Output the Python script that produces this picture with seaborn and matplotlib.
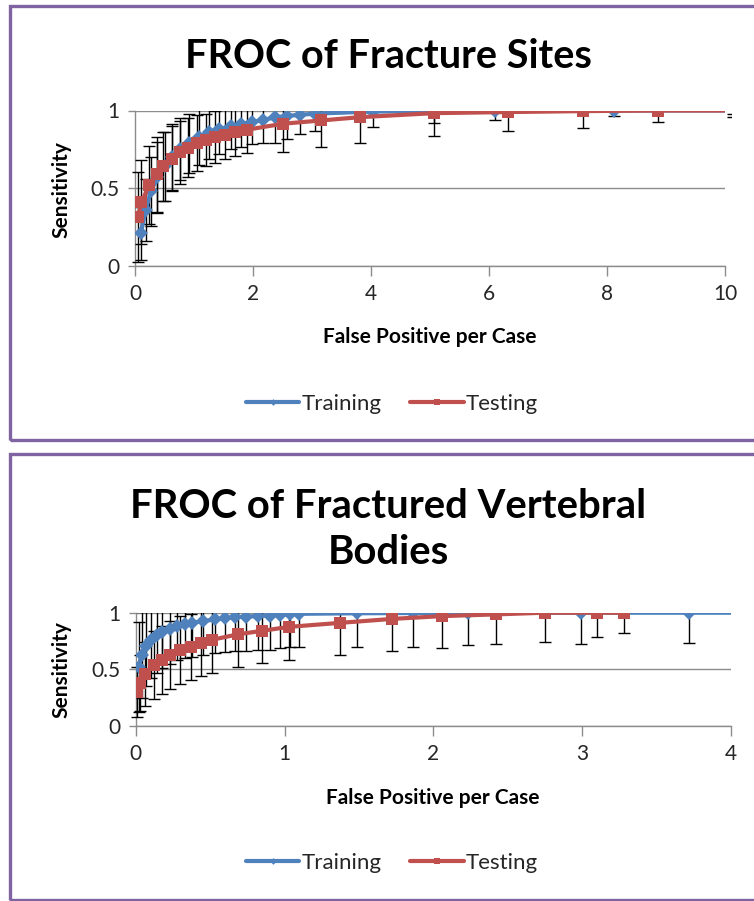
import matplotlib
matplotlib.use("Agg")
import matplotlib.pyplot as plt
import matplotlib.patches as mpatches
import numpy as np
import pandas as pd
import seaborn as sns

# ---------------- data ----------------
series_names = ["Training", "Testing"]

top_train_x = [0.10, 0.18, 0.27, 0.38, 0.50, 0.63, 0.77, 0.92, 1.08, 1.25, 1.43, 1.62, 1.80, 1.98,
               2.17, 2.37, 2.57, 2.80, 3.05, 4.03, 5.07, 6.10, 8.12, 10.13]
top_train_y = [0.21, 0.36, 0.48, 0.57, 0.64, 0.70, 0.75, 0.79, 0.83, 0.86, 0.88, 0.90, 0.915, 0.925,
               0.94, 0.955, 0.965, 0.972, 0.98, 0.993, 0.997, 0.999, 1.0, 1.0]
top_train_err = [0.17, 0.20, 0.22, 0.23, 0.22, 0.21, 0.20, 0.19, 0.18, 0.17, 0.16, 0.15, 0.15, 0.14,
                 0.15, 0.165, 0.15, 0.12, 0.11, 0.10, 0.08, 0.06, 0.035, 0.045]

top_test_x = [0.05, 0.11, 0.24, 0.37, 0.48, 0.62, 0.76, 0.90, 1.05, 1.20, 1.36, 1.52, 1.70, 1.89,
              2.51, 3.16, 3.81, 5.07, 6.33, 7.59, 8.86, 10.13]
top_test_y = [0.316, 0.41, 0.52, 0.59, 0.64, 0.69, 0.73, 0.76, 0.79, 0.81, 0.83, 0.845, 0.86, 0.876,
              0.915, 0.936, 0.957, 0.983, 0.99, 0.996, 1.0, 1.0]
top_test_err = [0.29, 0.27, 0.25, 0.24, 0.22, 0.21, 0.20, 0.19, 0.18, 0.17, 0.165, 0.16, 0.155, 0.15,
                0.185, 0.17, 0.167, 0.148, 0.12, 0.106, 0.075, 0.02]

bot_train_x = [0.02, 0.04, 0.07, 0.10, 0.14, 0.18, 0.23, 0.28, 0.33, 0.38, 0.45, 0.53, 0.60, 0.67,
               0.74, 0.82, 0.90, 0.97, 1.04, 1.10, 1.49, 1.86, 2.23, 2.99, 3.72, 4.20]
bot_train_y = [0.52, 0.63, 0.71, 0.76, 0.80, 0.83, 0.86, 0.88, 0.90, 0.91, 0.925, 0.94, 0.95, 0.96,
               0.965, 0.97, 0.975, 0.98, 0.985, 0.99, 0.995, 0.997, 0.999, 1.0, 1.0, 1.0]
bot_train_err = [0.40, 0.38, 0.36, 0.34, 0.33, 0.32, 0.31, 0.30, 0.30, 0.30, 0.30, 0.30, 0.30, 0.30,
                 0.30, 0.30, 0.30, 0.29, 0.29, 0.29, 0.30, 0.30, 0.28, 0.28, 0.265, 0.27]

bot_test_x = [0.01, 0.03, 0.063, 0.12, 0.175, 0.23, 0.30, 0.37, 0.44, 0.51, 0.69, 0.85, 1.03, 1.37,
              1.72, 2.06, 2.42, 2.75, 3.10, 3.28]
bot_test_y = [0.30, 0.38, 0.46, 0.54, 0.585, 0.63, 0.67, 0.70, 0.73, 0.76, 0.81, 0.84, 0.875, 0.91,
              0.945, 0.97, 0.985, 1.0, 1.0, 1.0]
bot_test_err = [0.22, 0.25, 0.28, 0.30, 0.30, 0.30, 0.30, 0.29, 0.29, 0.29, 0.29, 0.28, 0.29, 0.28,
                0.285, 0.28, 0.265, 0.255, 0.215, 0.18]

top_xticks = [0, 2, 4, 6, 8, 10]
bot_xticks = [0, 1, 2, 3, 4]
yticks = [0, 0.5, 1]
ytick_labels = ["0", "0.5", "1"]

titles = ["FROC of Fracture Sites", "FROC of Fractured Vertebral\nBodies"]
xlabel = "False Positive per Case"
ylabel = "Sensitivity"

# ---------------- style ----------------
sns.set_theme(style="white")
plt.rcParams["font.family"] = ["Lato", "DejaVu Sans"]

W, H = 754, 901
fig = plt.figure(figsize=(W / 100, H / 100), dpi=100)

BLUE = "#4F81BD"
RED = "#C0504D"
GRID = "#8C8C8C"
PURPLE = "#8064A2"
TXT = "#262626"

def fx(px):
    return px / W

def fy(py):
    return 1 - py / H

# panel borders
for top, bot in [(5.5, 440), (454, 899.5)]:
    fig.patches.append(mpatches.Rectangle((fx(9.5), fy(bot)), 1.2, fy(top) - fy(bot),
                                          transform=fig.transFigure, fill=False,
                                          edgecolor=PURPLE, linewidth=2.4, zorder=0))

def make_panel(rect, xmax, xticks, datasets):
    ax = fig.add_axes(rect)
    ax.set_facecolor("none")
    clip_rect = mpatches.Rectangle((-0.02, 0), 1.03, 1.0, transform=ax.transAxes)
    for name, (xs, ys, es), color, marker, ms in datasets:
        eb = ax.errorbar(xs, ys, yerr=es, fmt="none", ecolor="black", elinewidth=1.0,
                         capsize=4, capthick=1.0, zorder=3)
        for art in list(eb.lines[1]) + list(eb.lines[2]):
            art.set_clip_path(clip_rect)
        df = pd.DataFrame({"x": xs, "y": ys})
        sns.lineplot(data=df, x="x", y="y", ax=ax, color=color, linewidth=3.0,
                     marker=marker, markersize=ms, markeredgewidth=0,
                     sort=False, estimator=None, label=name, zorder=4, legend=False)
    ax.set_xlim(0, xmax)
    ax.set_ylim(0, 1)
    ax.set_xticks(xticks)
    ax.set_xticklabels([str(t) for t in xticks])
    ax.set_yticks(yticks)
    ax.set_yticklabels(ytick_labels)
    for s in ["top", "right"]:
        ax.spines[s].set_visible(False)
    for s in ["left", "bottom"]:
        ax.spines[s].set_color(GRID)
        ax.spines[s].set_linewidth(1.0)
    ax.yaxis.grid(True, color=GRID, linewidth=1.0)
    ax.xaxis.grid(False)
    ax.tick_params(axis="x", direction="out", length=7, width=1.0, color=GRID,
                   labelsize=15, labelcolor=TXT, pad=6, bottom=True)
    ax.tick_params(axis="y", direction="out", length=5, width=1.0, color=GRID,
                   labelsize=15, labelcolor=TXT, pad=6, left=True)
    ax.set_xlabel("")
    ax.set_ylabel("")
    return ax

# top panel: x=0 at px 135, x=10 at px 725; y=1 at py 110.5, y=0 at py 266
ax1 = make_panel([fx(135), fy(266), fx(725) - fx(135), fy(110.5) - fy(266)], 10, top_xticks,
                 [("Training", (top_train_x, top_train_y, top_train_err), BLUE, "D", 7.5),
                  ("Testing", (top_test_x, top_test_y, top_test_err), RED, "s", 9)])
# bottom panel: x=0 at 135.7, x=4 at 731; y=1 at 612.7, y=0 at 726
ax2 = make_panel([fx(135.7), fy(726), fx(731) - fx(135.7), fy(612.7) - fy(726)], 4, bot_xticks,
                 [("Training", (bot_train_x, bot_train_y, bot_train_err), BLUE, "D", 7.5),
                  ("Testing", (bot_test_x, bot_test_y, bot_test_err), RED, "s", 9)])

# titles
fig.text(fx(388), fy(56), titles[0], ha="center", va="center", fontsize=28.5,
         fontweight="bold", color="black")
fig.text(fx(388), fy(530), titles[1], ha="center", va="center", fontsize=28.8,
         fontweight="bold", color="black", linespacing=1.3)

# axis labels
for yc_label in [190, 670]:
    fig.text(fx(61), fy(yc_label), ylabel, rotation=90, ha="center", va="center",
             fontsize=15, fontweight="bold", color="black")
fig.text(fx(430), fy(337), xlabel, ha="center", va="center", fontsize=15,
         fontweight="bold", color="black")
fig.text(fx(433), fy(798), xlabel, ha="center", va="center", fontsize=15,
         fontweight="bold", color="black")

# legends
for ax, ly in [(ax1, 404), (ax2, 863)]:
    h, l = ax.get_legend_handles_labels()
    fig.legend(h, l, loc="center", bbox_to_anchor=(fx(392), fy(ly)), ncol=2, frameon=False,
               fontsize=16, handlelength=2.4, columnspacing=1.3, handletextpad=0.1,
               labelcolor=TXT, markerscale=0.45)

fig.savefig("out.png", dpi=100)
